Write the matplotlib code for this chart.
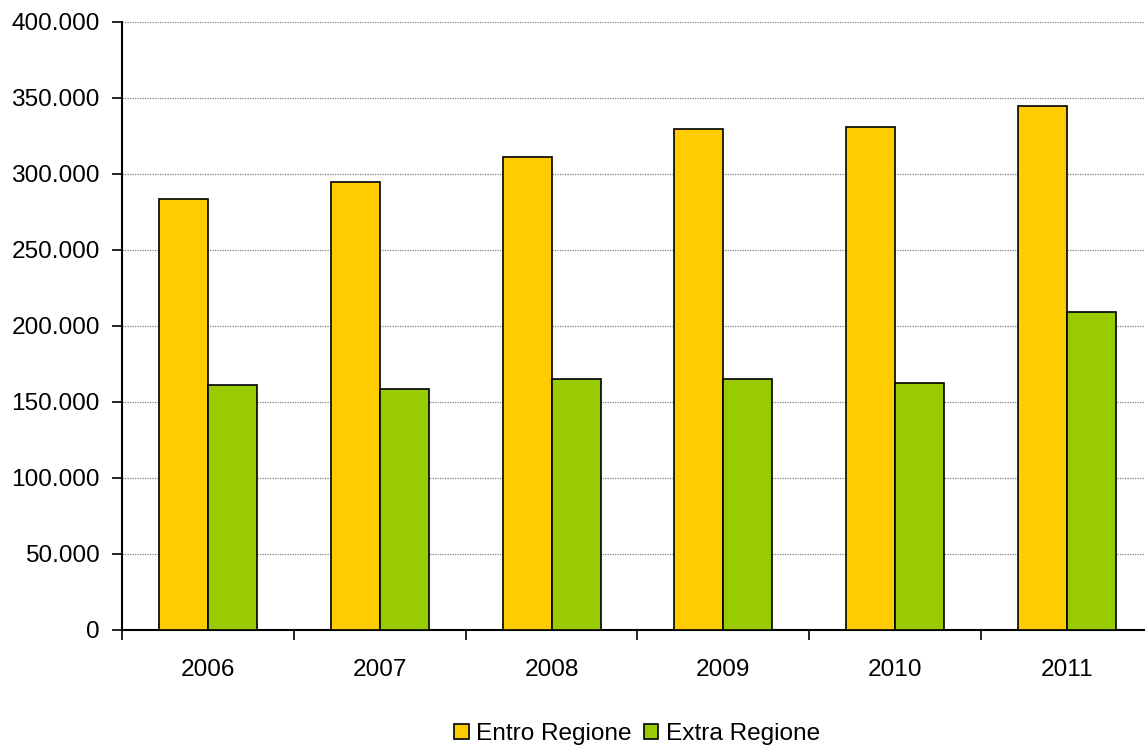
import numpy as np
import matplotlib.pyplot as plt
from matplotlib.ticker import FuncFormatter, FixedLocator

years = ["2006", "2007", "2008", "2009", "2010", "2011"]
entro = [283500, 294700, 311500, 329300, 330600, 344700]
extra = [161000, 158600, 165000, 165000, 162500, 209200]

plt.rcParams['font.family'] = ['Liberation Sans', 'DejaVu Sans']

fig = plt.figure(figsize=(11.45, 7.47), dpi=100)
ax = fig.add_axes([122 / 1145, 117 / 747, 1031 / 1145, 608 / 747])

x = np.arange(len(years))
w = 0.285
ax.bar(x - w, entro, width=w, align='edge', color='#FFCC00', edgecolor='black',
       linewidth=1.2, label='Entro Regione', zorder=3)
ax.bar(x, extra, width=w, align='edge', color='#99CC00', edgecolor='black',
       linewidth=1.2, label='Extra Regione', zorder=3)

ax.set_xlim(-0.5, len(years) - 0.5)
ax.set_ylim(0, 400000)
ax.set_yticks(np.arange(0, 400001, 50000))
ax.yaxis.set_major_formatter(FuncFormatter(lambda v, p: f"{int(v):,}".replace(",", ".")))
ax.grid(axis='y', color='#808080', linestyle=(0, (1, 1)), linewidth=0.9, zorder=0)

# year labels centred, tick marks between groups
ax.set_xticks(x)
ax.set_xticklabels(years)
ax.tick_params(axis='x', which='major', length=0, pad=21, labelsize=17.6)
ax.xaxis.set_minor_locator(FixedLocator(np.arange(-0.5, len(years), 1.0)))
ax.tick_params(axis='x', which='minor', length=7, width=1.2, direction='out')
ax.tick_params(axis='y', length=7, width=1.2, direction='out', labelsize=17.6, pad=9)

for s in ['top', 'right']:
    ax.spines[s].set_visible(False)
for s in ['left', 'bottom']:
    ax.spines[s].set_linewidth(1.5)

fig.legend(loc='center', bbox_to_anchor=(637 / 1145, 1 - 734 / 747), ncol=2,
           frameon=False, fontsize=17.6, handlelength=0.6, handleheight=0.6,
           handletextpad=0.3, columnspacing=0.5, borderpad=0)

fig.savefig("out.png", dpi=100)
